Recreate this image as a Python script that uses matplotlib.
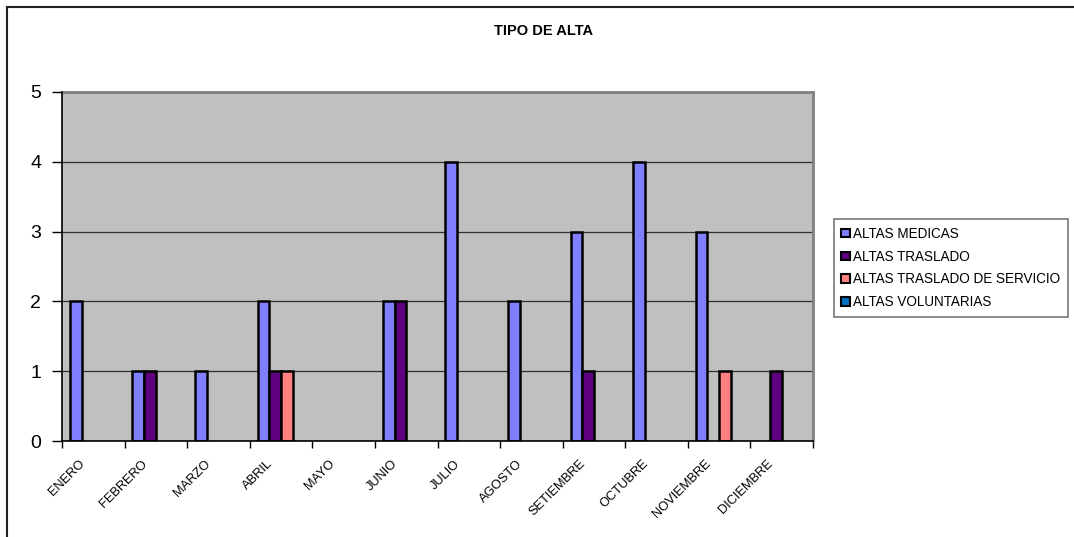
import matplotlib
matplotlib.use("Agg")
import matplotlib.pyplot as plt
import matplotlib.transforms as mtransforms
from matplotlib.patches import Patch
from matplotlib.lines import Line2D
import numpy as np

plt.rcParams["font.family"] = ["Liberation Sans", "DejaVu Sans"]

meses = ["ENERO", "FEBRERO", "MARZO", "ABRIL", "MAYO", "JUNIO", "JULIO",
         "AGOSTO", "SETIEMBRE", "OCTUBRE", "NOVIEMBRE", "DICIEMBRE"]
altas_medicas = [2, 1, 1, 2, 0, 2, 4, 2, 3, 4, 3, 0]
altas_traslado = [0, 1, 0, 1, 0, 2, 0, 0, 1, 0, 0, 1]
altas_traslado_servicio = [0, 0, 0, 1, 0, 0, 0, 0, 0, 0, 1, 0]
altas_voluntarias = [0, 0, 0, 0, 0, 0, 0, 0, 0, 0, 0, 0]

series = [
    ("ALTAS MEDICAS", altas_medicas, "#8080FF"),
    ("ALTAS TRASLADO", altas_traslado, "#5E0080"),
    ("ALTAS TRASLADO DE SERVICIO", altas_traslado_servicio, "#FF8080"),
    ("ALTAS VOLUNTARIAS", altas_voluntarias, "#0070C0"),
]

fig = plt.figure(figsize=(10.74, 5.37), dpi=100)
fig.patch.set_facecolor("white")

# outer chart frame (top and left edges visible)
fig.add_artist(Line2D([7 / 1074, 7 / 1074], [0, 1 - 7 / 537], transform=fig.transFigure,
                      color="#222222", lw=1.5))
fig.add_artist(Line2D([7 / 1074, 1], [1 - 7 / 537, 1 - 7 / 537], transform=fig.transFigure,
                      color="#222222", lw=1.5))

ax = fig.add_axes([62 / 1074, 1 - 441 / 537, (813 - 62) / 1074, (441 - 92) / 537])
ax.set_facecolor("#C0C0C0")

x = np.arange(len(meses))
w = 0.187
for k, (name, vals, color) in enumerate(series):
    vals = np.asarray(vals, dtype=float)
    mask = vals > 0
    ax.bar(x[mask] + (k - 1.5) * w, vals[mask], width=w, color=color,
           edgecolor="black", linewidth=1.8, zorder=3)

ax.set_xlim(-0.5, len(meses) - 0.5)
ax.set_ylim(0, 5)
ax.set_yticks(range(0, 6))
ax.yaxis.grid(True, color="#303030", linewidth=0.9, zorder=1)
ax.set_axisbelow(True)

# category boundaries carry the tick marks, centres carry the labels
ax.set_xticks(np.arange(-0.5, len(meses)), minor=False)
ax.set_xticklabels([])
ax.set_xticks(x, minor=True)
ax.set_xticklabels(meses, minor=True, rotation=45, ha="right", va="top", fontsize=9.25)
ax.tick_params(axis="x", which="major", direction="out", length=5, width=1, color="black")
ax.tick_params(axis="x", which="minor", length=0, pad=12)
offset = mtransforms.ScaledTranslation(-0.06, 0, fig.dpi_scale_trans)
for lbl in ax.get_xticklabels(minor=True):
    lbl.set_transform(lbl.get_transform() + offset)

ax.tick_params(axis="y", direction="out", length=7, width=1, color="black",
               labelsize=14, pad=8)

for side in ("top", "right"):
    ax.spines[side].set_color("#808080")
    ax.spines[side].set_linewidth(2)
for side in ("left", "bottom"):
    ax.spines[side].set_color("black")
    ax.spines[side].set_linewidth(1.2)
    ax.spines[side].set_zorder(4)

fig.text(544 / 1074, 1 - 31 / 537, "TIPO DE ALTA", ha="center", va="center",
         fontsize=10.5, fontweight="bold")

handles = [Patch(facecolor=c, edgecolor="black", linewidth=1.5, label=n) for n, _, c in series]
leg = fig.legend(handles=handles, loc="center left",
                 bbox_to_anchor=(834 / 1074, 1 - 268 / 537),
                 fontsize=9.75, frameon=True, fancybox=False,
                 handlelength=0.6, handleheight=0.6, handletextpad=0.25,
                 labelspacing=0.65, borderpad=0.55, borderaxespad=0)
leg.get_frame().set_edgecolor("#555555")
leg.get_frame().set_linewidth(1.2)

fig.savefig("out.png", dpi=100, facecolor="white")
